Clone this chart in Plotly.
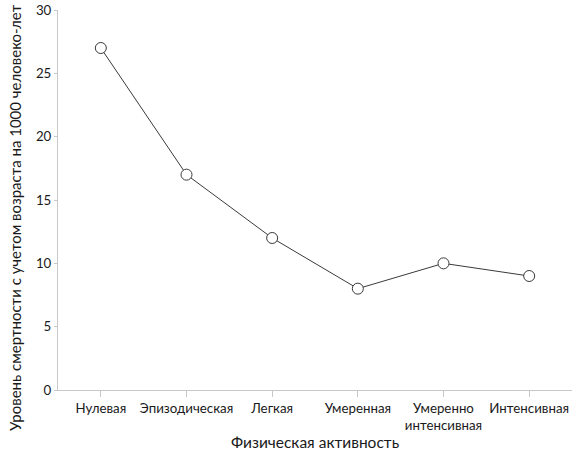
import plotly.graph_objects as go

categories = ["Нулевая", "Эпизодическая", "Легкая", "Умеренная", "Умеренно<br>интенсивная", "Интенсивная"]
mortality = [27, 17, 12, 8, 10, 9]
y_ticks = [0, 5, 10, 15, 20, 25, 30]

FONT = "Lato, Open Sans, sans-serif"

fig = go.Figure()
fig.add_trace(go.Scatter(
    x=list(range(len(categories))), y=mortality,
    mode="lines+markers",
    line=dict(color="#3a3a3a", width=1),
    marker=dict(symbol="circle", size=11, color="white", line=dict(color="#3a3a3a", width=1)),
    showlegend=False, hoverinfo="skip",
))

fig.update_layout(
    width=579, height=455,
    margin=dict(l=58, r=7, t=10, b=65),
    paper_bgcolor="white", plot_bgcolor="white",
    font=dict(family=FONT, size=13.3, color="#1a1a1a"),
    xaxis=dict(
        tickmode="array", tickvals=list(range(len(categories))), ticktext=categories,
        range=[-0.5, 5.5], showgrid=False, zeroline=False, automargin=False,
        showline=True, linecolor="#c8c8c8", linewidth=1,
        ticks="outside", ticklen=6, tickcolor="#c8c8c8",
        tickfont=dict(size=13.3),
    ),
    yaxis=dict(
        tickmode="array", tickvals=y_ticks, range=[0, 30], automargin=False,
        showgrid=False, zeroline=False,
        showline=True, linecolor="#c8c8c8", linewidth=1,
        ticks="outside", ticklen=3, tickcolor="#c8c8c8",
        tickfont=dict(size=13.3),
    ),
    annotations=[
        dict(text="Физическая активность", xref="paper", yref="paper", x=0.5, y=-0.137,
             xanchor="center", yanchor="middle", showarrow=False, font=dict(size=15.5)),
        dict(text="Уровень смертности с учетом возраста на 1000 человеко-лет", xref="paper", yref="paper",
             x=-0.0837, y=0.455, xanchor="center", yanchor="middle", textangle=-90,
             showarrow=False, font=dict(size=15)),
    ],
)
fig.write_html("out.html", config={"displayModeBar": False},
               post_script="document.body.style.margin='0';")
